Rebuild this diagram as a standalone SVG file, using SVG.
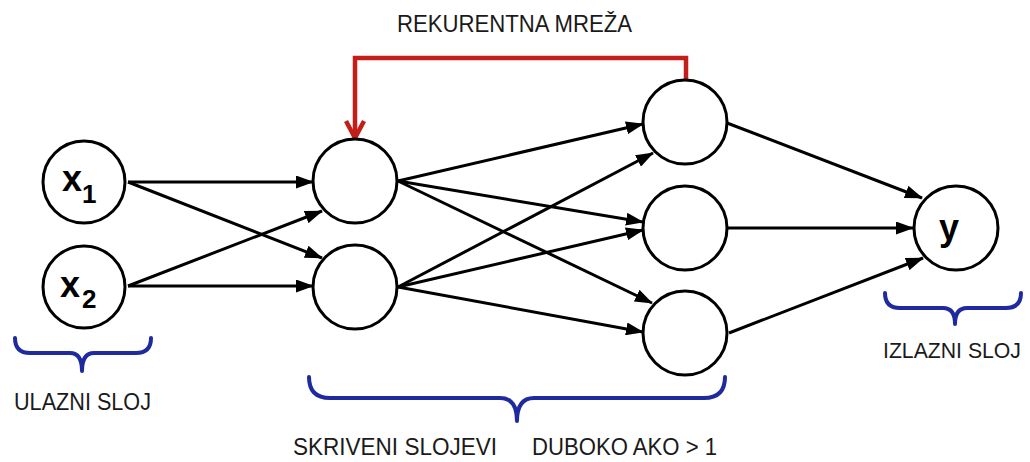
<svg xmlns="http://www.w3.org/2000/svg" width="1030" height="462" viewBox="0 0 1030 462">
<style>
.node{fill:#fff;stroke:#000;stroke-width:3}
.edge{fill:none;stroke:#000;stroke-width:3;marker-end:url(#ah)}
.rec{fill:none;stroke:#c41e1a;stroke-width:4.5;marker-end:url(#rh)}
.brace{fill:none;stroke:#1f2a9e;stroke-width:4;stroke-linecap:round;stroke-linejoin:round}
.lbl{font-family:"Liberation Sans",Arial,sans-serif;font-size:24px;fill:#1a1a1a}
.var{font-family:"Liberation Sans",Arial,sans-serif;font-weight:bold;fill:#000}
</style>
<defs>
<marker id="ah" viewBox="0 0 18 13" refX="17" refY="6.5" markerWidth="18" markerHeight="13" markerUnits="userSpaceOnUse" orient="auto">
<path d="M0,0 L18,6.5 L0,13 Z" fill="#000"/>
</marker>
<marker id="rh" viewBox="0 0 24 24" refX="20" refY="12" markerWidth="24" markerHeight="24" markerUnits="userSpaceOnUse" orient="auto">
<path d="M3,3 L20,12 L3,21" fill="none" stroke="#c41e1a" stroke-width="4.5"/>
</marker>
</defs>
<rect width="1030" height="462" fill="#fff"/>
<g id="connectors">
<path class="edge" d="M128,182 L313,182"/>
<path class="edge" d="M128,182 L322,258"/>
<path class="edge" d="M128,286 L322,211"/>
<path class="edge" d="M128,286 L313,286"/>
<path class="edge" d="M398,181 L643,124"/>
<path class="edge" d="M398,181 L643,222"/>
<path class="edge" d="M398,181 L652,303"/>
<path class="edge" d="M398,287 L653,153"/>
<path class="edge" d="M398,287 L643,230"/>
<path class="edge" d="M398,287 L643,332"/>
<path class="edge" d="M727,123 L922,198"/>
<path class="edge" d="M727,228 L913,228"/>
<path class="edge" d="M729,333 L923,258"/>
<path class="rec" d="M686,81 L686,58 L355,58 L355,138"/>
</g>
<g id="x1"><circle class="node" cx="84" cy="182" r="41"/><text class="var" x="62" y="191" font-size="36">x</text><text class="var" x="82" y="203" font-size="26">1</text></g>
<g id="x2"><circle class="node" cx="84" cy="287" r="41"/><text class="var" x="60" y="297" font-size="36">x</text><text class="var" x="82" y="308" font-size="26">2</text></g>
<g id="h1"><circle class="node" cx="355" cy="181" r="42"/></g>
<g id="h2"><circle class="node" cx="355" cy="287" r="42"/></g>
<g id="l1"><circle class="node" cx="685" cy="122" r="42"/></g>
<g id="l2"><circle class="node" cx="685" cy="228" r="42"/></g>
<g id="l3"><circle class="node" cx="685" cy="333" r="42"/></g>
<g id="y"><circle class="node" cx="956" cy="228" r="42"/><text class="var" x="949" y="240" font-size="36" text-anchor="middle">y</text></g>
<g id="label-rek"><text class="lbl" x="397" y="32" textLength="235" lengthAdjust="spacingAndGlyphs">REKURENTNA MREŽA</text></g>
<g id="brace-in">
<path class="brace" d="M15,338 Q15,353 30,353 L70,353 Q82,353 82,371 Q82,353 94,353 L136,353 Q151,353 151,338"/>
<text class="lbl" x="14" y="410" textLength="137" lengthAdjust="spacingAndGlyphs">ULAZNI SLOJ</text>
</g>
<g id="brace-hidden">
<path class="brace" d="M309,377 Q309,398 330,398 L500,398 Q517,398 517,421 Q517,398 534,398 L704,398 Q725,398 725,377"/>
<text class="lbl" x="293" y="455" textLength="204" lengthAdjust="spacingAndGlyphs">SKRIVENI SLOJEVI</text>
<text class="lbl" x="532" y="455" textLength="185" lengthAdjust="spacingAndGlyphs">DUBOKO AKO &gt; 1</text>
</g>
<g id="brace-out">
<path class="brace" d="M885,293 Q885,308 900,308 L943,308 Q955,308 955,324 Q955,308 967,308 L1006,308 Q1021,308 1021,293"/>
<text class="lbl" x="883" y="358" font-size="22" style="font-size:22px" textLength="138" lengthAdjust="spacingAndGlyphs">IZLAZNI SLOJ</text>
</g>
</svg>
